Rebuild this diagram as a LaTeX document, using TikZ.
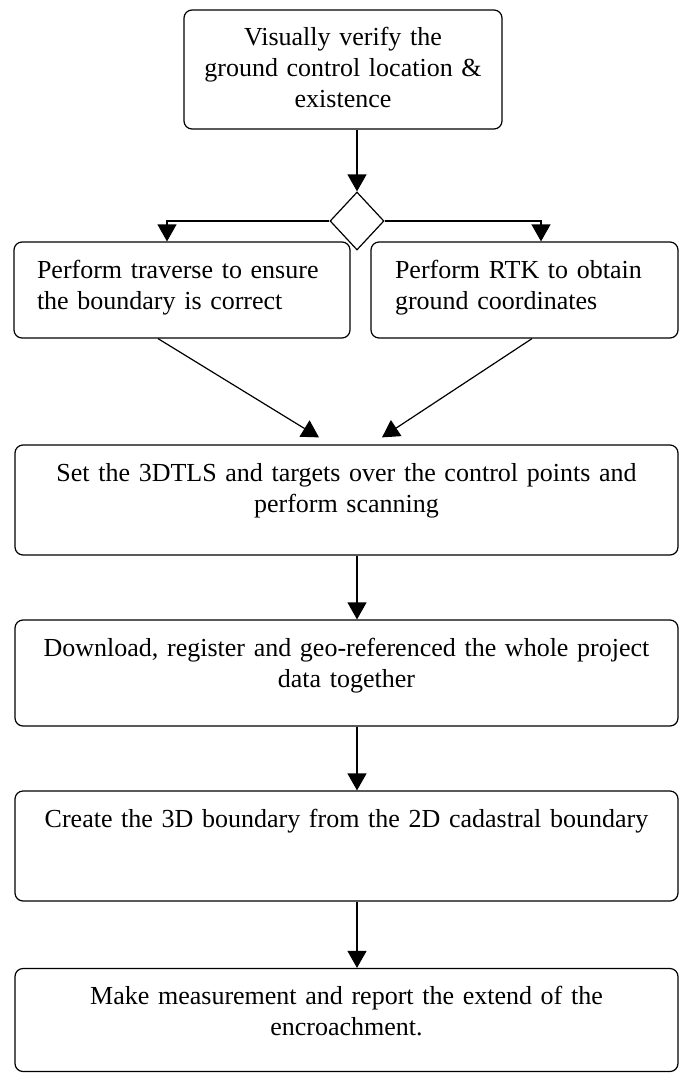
\documentclass[tikz,border=0pt]{standalone}
\usepackage{fontspec}
\setmainfont{Liberation Serif}
\usetikzlibrary{arrows.meta,shapes.geometric}

\tikzset{
    stepbox/.style={draw, rounded corners=8pt, line width=1.2pt, inner xsep=10pt, inner ysep=10pt,
        text height=26pt, align=center, font=\fontsize{26}{31}\selectfont},
    widebox/.style={stepbox, text width=643pt},
    sidebox/.style={stepbox, align=left, inner xsep=23pt},
    arr/.style={-{Triangle[length=17pt,width=19pt]}, line width=1.2pt},
}

\begin{document}
\begin{tikzpicture}[x=1pt,y=-1pt]
    \useasboundingbox (0,0) rectangle (680,1073);

    \node[stepbox, text width=298pt, text depth=73pt] (verify) at (343,69.5)
        {Visually verify the\\ground control location \&\\existence};
    \node[draw, diamond, line width=1.2pt, inner sep=0pt, minimum width=54pt, minimum height=58pt] (dia) at (357,221) {};
    \coordinate (brL) at (167,221);
    \coordinate (brR) at (541,221);

    \node[sidebox, text width=290pt, text depth=50pt] (trav) at (182,290)
        {Perform traverse to ensure\\the boundary is correct};
    \node[sidebox, text width=259pt, inner xsep=24pt, text depth=50pt] (rtk) at (524.5,290)
        {Perform RTK to obtain\\ground coordinates};

    \node[widebox, text depth=64pt] (scan) at (346.5,500)
        {Set the 3DTLS and targets over the control points and\\perform scanning};
    \node[widebox, text depth=60pt] (reg) at (346.5,673)
        {Download, register and geo-referenced the whole project\\data together};
    \node[widebox, text depth=64pt] (bnd) at (346.5,846)
        {Create the 3D boundary from the 2D cadastral boundary};
    \node[widebox, text depth=57pt] (meas) at (346.5,1020)
        {Make measurement and report the extend of the\\encroachment.};

    \draw[arr] (verify.south -| dia.north) -- (dia.north);
    \draw[arr] (dia.west) -- (brL) -- (trav.north -| brL);
    \draw[arr] (dia.east) -- (brR) -- (rtk.north -| brR);
    \draw[arr] ([xshift=-24pt]trav.south) -- ([xshift=-27.5pt,yshift=7pt]scan.north);
    \draw[arr] ([xshift=7.5pt]rtk.south) -- ([xshift=35.5pt,yshift=7pt]scan.north);
    \draw[arr] (scan.south -| dia.south) -- (reg.north -| dia.south);
    \draw[arr] (reg.south -| dia.south) -- (bnd.north -| dia.south);
    \draw[arr] (bnd.south -| dia.south) -- (meas.north -| dia.south);

\end{tikzpicture}
\end{document}
